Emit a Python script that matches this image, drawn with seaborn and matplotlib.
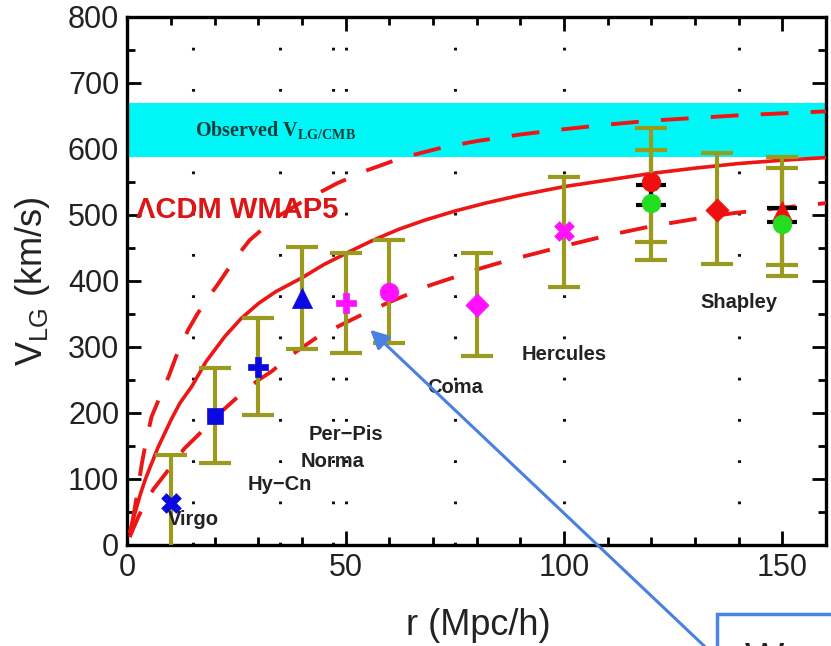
import matplotlib
matplotlib.use("Agg")
import matplotlib.pyplot as plt
import seaborn as sns
from matplotlib.patches import Rectangle
from matplotlib.ticker import MultipleLocator

# ---- model curves (r in Mpc/h, V_LG in km/s) ----
r_upper = [1, 2.1, 3.3, 4.4, 5.5, 7, 8.2, 9.4, 11.5, 13.9, 16, 18.5, 20.8, 25, 28,
           31.5, 35, 40, 48, 55, 63, 72, 80, 90, 100, 110, 120, 130, 140, 150, 160]
v_upper = [30, 73, 124, 162, 194, 218, 237, 255, 292, 326, 350, 375, 396, 437, 462,
           482, 500, 520, 548, 568, 587, 602, 612, 622, 630, 637, 643, 647, 651, 654, 657]

r_mid = [0.5, 1, 2, 3, 4, 5, 7, 10, 12, 14.7, 18, 22.3, 26, 30, 34, 40, 45, 51, 56,
         62, 68, 75, 82, 90, 100, 110, 120, 130, 140, 150, 160]
v_mid = [20, 32, 55, 78, 98, 115, 148, 190, 215, 240, 278, 316, 343, 366, 384, 405,
         425, 445, 461, 478, 492, 506, 518, 530, 543, 553, 563, 571, 578, 583, 587]

r_lower = [0.5, 1, 2.5, 4.4, 6, 9.4, 13, 17.8, 22, 26.2, 30, 33, 38, 43.7, 50, 54, 60,
           68.6, 75, 80.8, 87, 93, 100, 110, 120, 130, 139, 150, 160]
v_lower = [12, 20, 43, 68, 85, 114, 146, 177, 205, 230, 250, 263, 290, 316, 337, 350,
           368, 392, 406, 419, 431, 441, 453, 469, 483, 494, 503, 511, 518]

# ---- measured points with error bar extents ----
pt_r = [10, 20, 30, 40, 50, 60, 80, 100, 120, 120, 135, 150, 150]
pt_v = [64, 195, 270, 374, 367, 384, 363, 476, 550, 518, 508, 506, 486]
pt_lo = [-10, 124, 197, 297, 291, 306, 286, 391, 459, 432, 426, 424, 408]
pt_hi = [136, 268, 344, 451, 442, 462, 442, 557, 632, 598, 594, 588, 571]
pt_marker = ["X", "s", "P", "^", "P", "o", "D", "X", "o", "o", "D", "^", "o"]
pt_color = ["#0a0ae0", "#0a0ae0", "#0a0ae0", "#0a0ae0",
            "#ff10ff", "#ff10ff", "#ff10ff", "#ff10ff",
            "#ee1010", "#22dd22", "#ee1010", "#ee1010", "#22dd22"]

# short black bars
blk_r = [120, 150]
blk_lo = [515, 489]
blk_hi = [545, 510]

# observed band
band_lo, band_hi = 588, 670

# structure names
lbl_text = ["Virgo", "Hy\u2212Cn", "Norma", "Per\u2212Pis", "Coma", "Hercules", "Shapley"]
lbl_x = [15, 35, 47, 50, 75, 100, 140]
lbl_y = [39, 92, 127, 168, 239, 289, 368]

marker_size = {"X": 200, "s": 140, "P": 200, "^": 210, "o": 180, "D": 140}

sns.set_theme(style="ticks")
plt.rcParams["font.family"] = ["Liberation Sans", "DejaVu Sans"]
plt.rcParams["mathtext.default"] = "regular"
plt.rcParams["lines.scale_dashes"] = False

W, H = 831, 646
fig = plt.figure(figsize=(W / 100, H / 100), dpi=100)
ax = fig.add_axes([127.5 / W, 101 / H, (826 - 127.5) / W, (545 - 17) / H])

# dotted markers of structure distances
for x in lbl_x:
    ax.axvline(x, color="#111111", lw=2.2, linestyle=(0, (2, 27.7)), zorder=1)

ax.axhspan(band_lo, band_hi, color="#00f7f7", lw=0, zorder=1.5)
ax.text(15.5, 629, r"Observed V$_{LG/CMB}$", family="Liberation Serif",
        fontweight="bold", fontsize=14.5, color="#143c3c", ha="left", va="center",
        zorder=6)

red = "#ee1515"
sns.lineplot(x=r_upper, y=v_upper, ax=ax, color=red, lw=2.8,
             linestyle=(0, (20, 16)), zorder=3)
sns.lineplot(x=r_mid, y=v_mid, ax=ax, color=red, lw=2.6, zorder=3)
sns.lineplot(x=r_lower, y=v_lower, ax=ax, color=red, lw=2.8,
             linestyle=(0, (20, 16)), zorder=3)

ax.text(2.0, 507, "\u039bCDM WMAP5", color="#dd1515", fontsize=21,
        fontweight="bold", ha="left", va="center", zorder=6)

olive = "#9a9a1e"
for r, v, lo, hi in zip(pt_r, pt_v, pt_lo, pt_hi):
    ax.errorbar([r], [v], yerr=[[v - lo], [hi - v]], fmt="none", ecolor=olive,
                elinewidth=3, capsize=11.5, capthick=3, zorder=4)
for r, lo, hi in zip(blk_r, blk_lo, blk_hi):
    mid = (lo + hi) / 2
    ax.errorbar([r], [mid], yerr=[[mid - lo], [hi - mid]], fmt="none", ecolor="black",
                elinewidth=3, capsize=11, capthick=3, zorder=4.5)

for r, v, m, c in zip(pt_r, pt_v, pt_marker, pt_color):
    sns.scatterplot(x=[r], y=[v], ax=ax, marker=m, color=c, s=marker_size[m],
                    edgecolor=c, linewidth=0.5, zorder=5)

for t, x, y in zip(lbl_text, lbl_x, lbl_y):
    ax.text(x, y, t, fontsize=14.5, fontweight="bold", color="#222222",
            ha="center", va="center", zorder=6)

ax.set_xlim(0, 160)
ax.set_ylim(0, 800)
ax.xaxis.set_major_locator(MultipleLocator(50))
ax.xaxis.set_minor_locator(MultipleLocator(10))
ax.yaxis.set_major_locator(MultipleLocator(100))
ax.yaxis.set_minor_locator(MultipleLocator(50))
ax.tick_params(which="both", direction="in", top=True, right=True,
               width=2, colors="black", labelsize=22)
ax.tick_params(which="major", length=10, pad=6)
ax.tick_params(which="minor", length=6)
for s in ax.spines.values():
    s.set_linewidth(2.4)
    s.set_color("black")
for lab in ax.get_xticklabels() + ax.get_yticklabels():
    lab.set_color("#222222")

ax.set_xlabel("r (Mpc/h)", fontsize=26, color="#222222")
ax.set_ylabel(r"V$_{LG}$ (km/s)", fontsize=26, color="#222222")
ax.xaxis.set_label_coords(0.502, -0.12)
ax.yaxis.set_label_coords(-0.108, 0.5)

# callout arrow and box
ax.annotate("", xy=(55.6, 326), xycoords="data", xytext=(719, -14),
            textcoords="figure pixels",
            arrowprops=dict(arrowstyle="-|>", color="#4a80e0", lw=2.2,
                            mutation_scale=28, shrinkA=0, shrinkB=0),
            annotation_clip=False, zorder=10)
box = Rectangle((717 / W, -0.1), 0.3, 0.1 + 32 / H, transform=fig.transFigure,
                facecolor="white", edgecolor="#4a86e8", lw=2.5, zorder=11)
fig.add_artist(box)
fig.text(745 / W, 5 / H, "W", fontsize=30, color="#222222", ha="left", va="top",
         zorder=12)

fig.savefig("out.png", dpi=100)
